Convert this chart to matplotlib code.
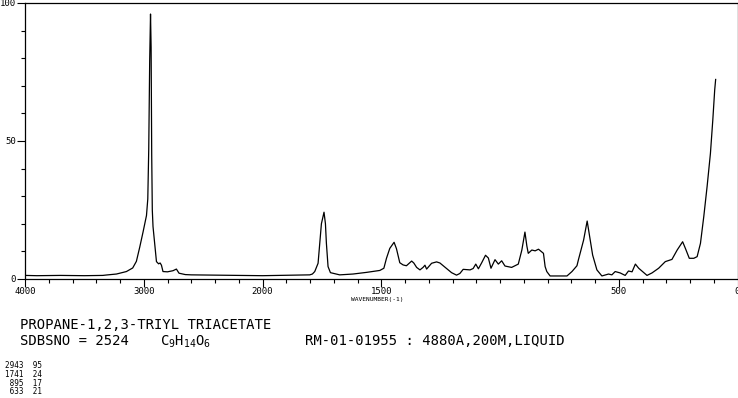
import numpy as np
import matplotlib
matplotlib.use('Agg')
import matplotlib.pyplot as plt
from matplotlib.ticker import FixedLocator, NullFormatter

# Raman spectrum of glycerol triacetate
wavenumber = np.array((
    4000, 3900, 3700, 3500, 3345, 3314, 3230, 3146, 3093, 3062, 3034, 3006,
    2977, 2966, 2958, 2950, 2943, 2938, 2933, 2928, 2922, 2908, 2893, 2875,
    2862, 2851, 2838, 2800, 2754, 2725, 2703, 2650, 2600, 2400, 2200, 2000,
    1801, 1790, 1780, 1766, 1759, 1752, 1741, 1735, 1731, 1724, 1714, 1675,
    1619, 1562, 1506, 1489, 1478, 1464, 1446, 1436, 1422, 1408, 1394, 1372,
    1363, 1351, 1337, 1324, 1316, 1309, 1288, 1267, 1253, 1239, 1218, 1204,
    1183, 1169, 1155, 1126, 1113, 1102, 1091, 1077, 1061, 1049, 1038, 1021,
    1007, 993, 979, 951, 923, 908, 895, 887, 881, 866, 852, 838,
    824, 817, 810, 803, 789, 718, 697, 676, 670, 648, 633, 620,
    610, 592, 571, 543, 529, 515, 494, 473, 459, 444, 430, 416,
    381, 360, 332, 304, 276, 254, 231, 219, 203, 184, 170, 156,
    142, 128, 114, 104, 96, 92))
intensity = np.array((
    1.3, 1.2, 1.3, 1.2, 1.3, 1.45, 1.8, 2.7, 4.0, 6.4, 11.5, 17.0,
    23.0, 29.0, 47.0, 79.0, 96.0, 84.0, 45.0, 25.0, 19.0, 13.0, 6.3, 5.5,
    5.8, 5.0, 2.7, 2.6, 3.0, 3.6, 2.1, 1.6, 1.5, 1.4, 1.3, 1.2,
    1.5, 1.8, 2.7, 5.7, 12.9, 20.0, 24.2, 20.0, 13.0, 4.5, 2.3, 1.5,
    1.8, 2.4, 3.1, 3.9, 7.5, 11.1, 13.3, 11.0, 5.9, 5.1, 4.8, 6.5,
    5.8, 4.2, 3.3, 4.2, 5.0, 3.6, 5.7, 6.2, 5.8, 4.8, 3.3, 2.3,
    1.4, 2.0, 3.5, 3.3, 3.8, 5.4, 3.7, 5.9, 8.6, 7.6, 3.9, 7.0,
    5.4, 6.6, 4.7, 4.2, 5.4, 10.5, 17.0, 12.0, 9.3, 10.5, 10.2, 10.8,
    9.8, 9.3, 4.5, 2.7, 1.1, 1.1, 2.7, 4.8, 6.9, 14.1, 21.0, 14.0,
    8.7, 3.3, 1.1, 1.8, 1.5, 2.7, 2.2, 1.3, 2.9, 2.6, 5.4, 3.9,
    1.3, 2.2, 3.9, 6.3, 7.1, 10.5, 13.5, 11.0, 7.5, 7.5, 8.1, 12.9,
    22.6, 33.5, 45.5, 57.6, 68.5, 72.3))

peak_wn = ['2943', '1741', '895', '633']
peak_int = ['95', '24', '17', '21']

name = 'PROPANE-1,2,3-TRIYL TRIACETATE'
sdbs_no = 'SDBSNO = 2524'
formula = r'$\mathregular{C_9H_{14}O_6}$'
conditions = 'RM-01-01955 : 4880A,200M,LIQUID'

mono = 'DejaVu Sans Mono'
W, H = 738, 398


def forward(w):
    w = np.asarray(w, dtype=float)
    return np.where(w > 2000, 2000 + (w - 2000) / 2, w)


def inverse(u):
    u = np.asarray(u, dtype=float)
    return np.where(u > 2000, 2000 + (u - 2000) * 2, u)


fig = plt.figure(figsize=(W / 100, H / 100), dpi=100)
ax = fig.add_axes([25 / W, 1 - 279 / H, 712.5 / W, 276 / H])
ax.plot(wavenumber, intensity, color='black', lw=0.9)

ax.set_xscale('function', functions=(forward, inverse))
ax.set_xlim(4000, 0)
ax.set_ylim(0, 100)

ax.xaxis.set_major_locator(FixedLocator([4000, 3000, 2000, 1500, 500, 0]))
ax.xaxis.set_minor_locator(FixedLocator(
    list(range(3800, 2000, -200)) + list(range(1900, 0, -100))))
ax.xaxis.set_minor_formatter(NullFormatter())
ax.set_xticklabels(['4000', '3000', '2000', '1500', '500', '0'],
                   fontfamily=mono, fontsize=6.5)
ax.yaxis.set_major_locator(FixedLocator([0, 50, 100]))
ax.yaxis.set_minor_locator(FixedLocator(range(10, 100, 10)))
ax.set_yticklabels(['0', '50', '100'], fontfamily=mono, fontsize=6.5)

ax.tick_params(which='major', direction='out', length=5.5, width=0.8,
               pad=1, color='black')
ax.tick_params(axis='x', which='major', pad=0.5)
ax.tick_params(which='minor', direction='out', length=3, width=0.8,
               color='black')
for s in ax.spines.values():
    s.set_linewidth(0.9)
    s.set_color('black')

fig.text(377 / W, 1 - 300 / H, 'WAVENUMBER(-1)', fontfamily=mono,
         fontsize=4.5, ha='center', va='center')

fig.text(20 / W, 1 - 325 / H, name, fontfamily=mono, fontsize=10,
         ha='left', va='center')
fig.text(20 / W, 1 - 341 / H, sdbs_no, fontfamily=mono, fontsize=10,
         ha='left', va='center')
fig.text(160 / W, 1 - 342 / H, formula, fontfamily=mono, fontsize=10,
         ha='left', va='center')
fig.text(305 / W, 1 - 341 / H, conditions, fontfamily=mono, fontsize=10,
         ha='left', va='center')

row_y = [366, 374.5, 383, 391]
for wn, it, y in zip(peak_wn, peak_int, row_y):
    fig.text(5 / W, 1 - y / H, '%4s  %2s' % (wn, it), fontfamily=mono,
             fontsize=5.5, ha='left', va='center')

fig.savefig('out.png', dpi=100)
